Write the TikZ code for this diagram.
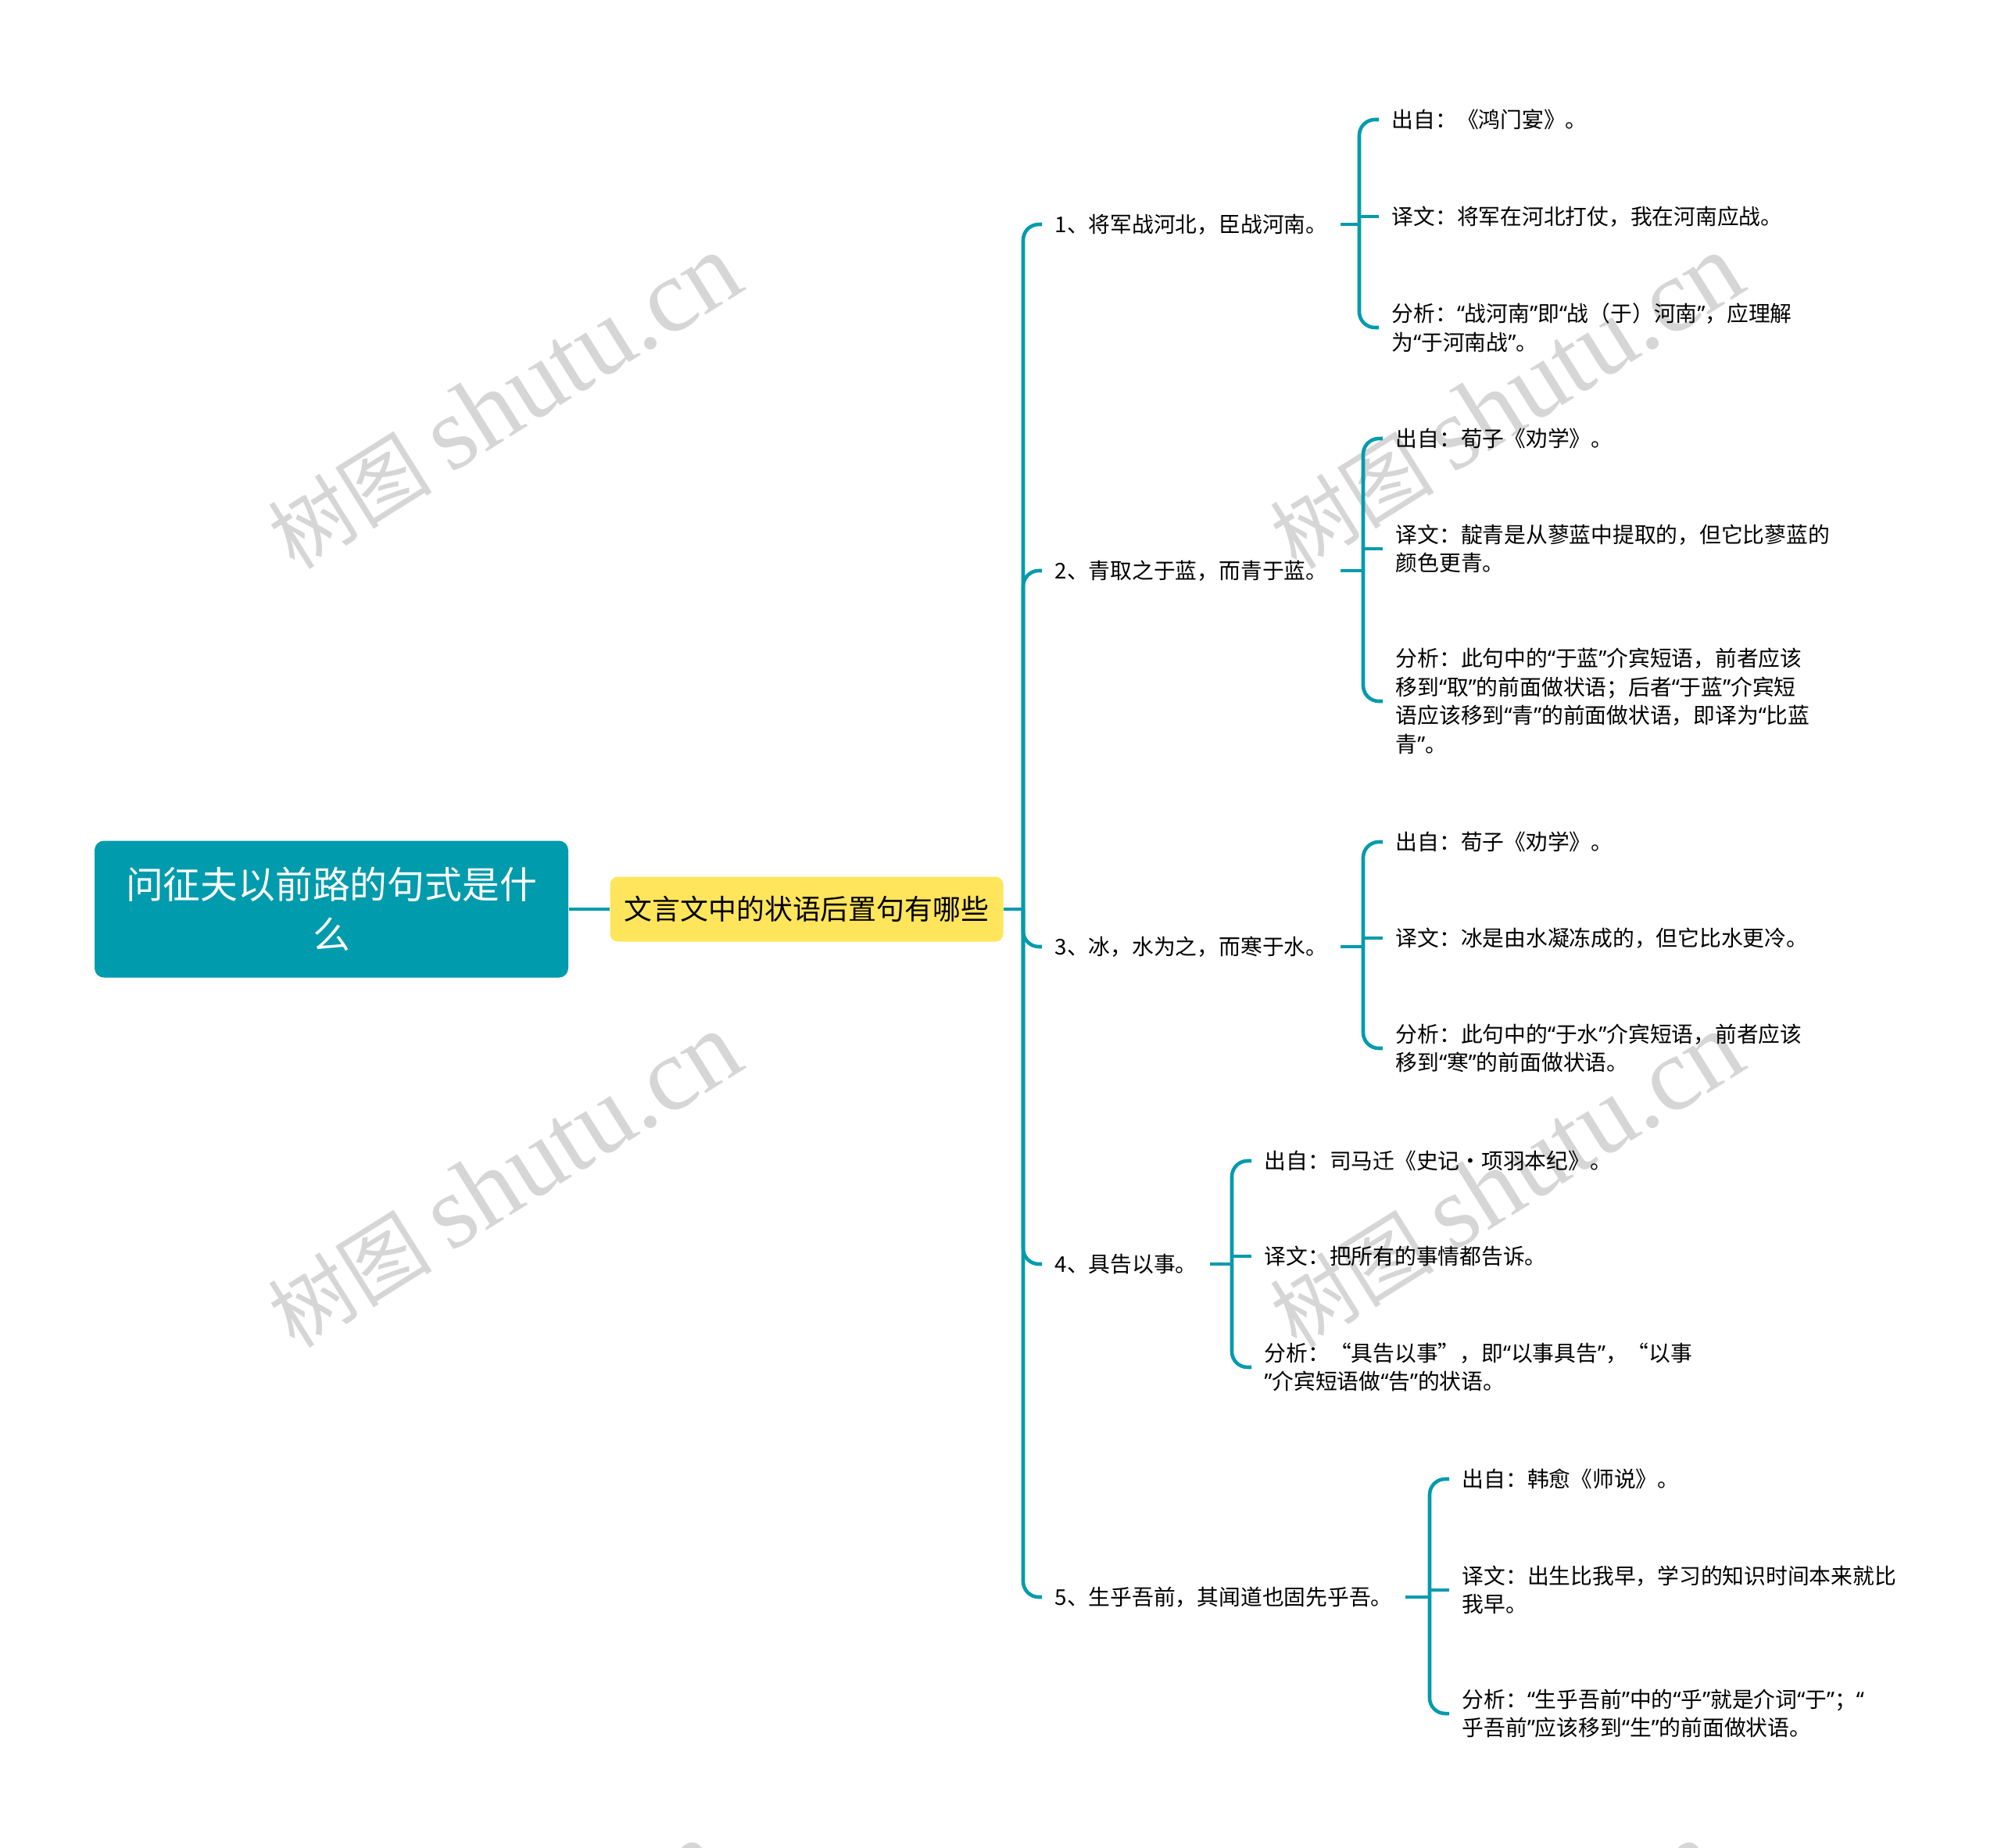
\documentclass[tikz,border=0pt]{standalone}
\usepackage{fontspec}
\setmainfont{Noto Sans CJK SC}
\newfontfamily\wmlatin{Liberation Serif}
\newfontfamily\quotefont{Noto Sans}
\newcommand{\qL}{{\quotefont “}}
\newcommand{\qR}{{\quotefont ”}}
\newcommand{\zq}[1]{\qL#1\qR}
\usetikzlibrary{positioning}
\definecolor{mapteal}{RGB}{0,155,172}
\definecolor{mapyellow}{RGB}{255,229,92}
\definecolor{wmgray}{RGB}{214,214,214}

\begin{document}
\begin{tikzpicture}[
  x=1cm,y=1cm,
  link/.style={draw=mapteal,line width=1.3pt,rounded corners=0.2cm},
  rootbox/.style={fill=mapteal,rounded corners=0.12cm,text=white,align=center,
    font=\fontsize{13.6pt}{18.2pt}\selectfont,minimum width=6.06cm,minimum height=1.75cm},
  topicbox/.style={fill=mapyellow,rounded corners=0.1cm,
    font=\fontsize{10.2pt}{12pt}\selectfont,minimum width=5.03cm,minimum height=0.83cm},
  branch/.style={anchor=west,inner sep=0.16cm,font=\fontsize{7.9pt}{10.4pt}\selectfont},
  leaf/.style={branch,align=left},
  wmark/.style={text=wmgray,rotate=32,inner sep=0pt}
]
\useasboundingbox (0,0) rectangle (25.6,-23.63);
\clip (0,0) rectangle (25.6,-23.63);

% watermarks
\foreach \p [count=\i] in {(6.45,-5.14),(19.27,-5.14),(6.45,-15.10),(19.27,-15.10),(6.2,-25.45),(18.95,-25.45)}
  \node[wmark] (wm\i) at \p {{\fontsize{30pt}{30pt}\selectfont 树图\ }{\wmlatin\fontsize{38pt}{38pt}\selectfont shutu.cn}};

\node[rootbox]  (root)  at (4.24,-11.63) {问征夫以前路的句式是什\\么};
\node[topicbox] (topic) at (10.32,-11.63) {文言文中的状语后置句有哪些};

\node[branch] (n1) at (13.33,-2.87)  {1、将军战河北，臣战河南。};
\node[branch] (n2) at (13.33,-7.30)  {2、青取之于蓝，而青于蓝。};
\node[branch] (n3) at (13.33,-12.11) {3、冰，水为之，而寒于水。};
\node[branch] (n4) at (13.33,-16.17) {4、具告以事。};
\node[branch] (n5) at (13.33,-20.43) {5、生乎吾前，其闻道也固先乎吾。};

\node[leaf] (c11) at (17.64,-1.53) {出自：《鸿门宴》。};
\node[leaf] (c12) at (17.64,-2.77) {译文：将军在河北打仗，我在河南应战。};
\node[leaf] (c13) at (17.64,-4.19) {分析：\zq{战河南}即\zq{战（于）河南}，应理解\\为\zq{于河南战}。};

\node[leaf] (c21) at (17.69,-5.61) {出自：荀子《劝学》。};
\node[leaf] (c22) at (17.69,-7.02) {译文：靛青是从蓼蓝中提取的，但它比蓼蓝的\\颜色更青。};
\node[leaf] (c23) at (17.69,-8.97) {分析：此句中的\zq{于蓝}介宾短语，前者应该\\移到\zq{取}的前面做状语；后者\zq{于蓝}介宾短\\语应该移到\zq{青}的前面做状语，即译为\qL 比蓝\\青\qR。};

\node[leaf] (c31) at (17.69,-10.77) {出自：荀子《劝学》。};
\node[leaf] (c32) at (17.69,-12.00) {译文：冰是由水凝冻成的，但它比水更冷。};
\node[leaf] (c33) at (17.69,-13.41) {分析：此句中的\zq{于水}介宾短语，前者应该\\移到\zq{寒}的前面做状语。};

\node[leaf] (c41) at (16.01,-14.85) {出自：司马迁《史记·项羽本纪》。};
\node[leaf] (c42) at (16.01,-16.07) {译文：把所有的事情都告诉。};
\node[leaf] (c43) at (16.01,-17.49) {分析：“具告以事”，即\zq{以事具告}，“以事\\\qR 介宾短语做\zq{告}的状语。};

\node[leaf] (c51) at (18.54,-18.92) {出自：韩愈《师说》。};
\node[leaf] (c52) at (18.54,-20.34) {译文：出生比我早，学习的知识时间本来就比\\我早。};
\node[leaf] (c53) at (18.54,-21.92) {分析：\zq{生乎吾前}中的\zq{乎}就是介词\zq{于}；\qL\\乎吾前\qR 应该移到\zq{生}的前面做状语。};

% main spine
\coordinate (sp) at (13.09,-11.63);
\draw[link] (root.east) -- (topic.west);
\draw[link] (topic.east) -- (sp);
\foreach \n in {n1,n2,n3,n4,n5}
  \draw[link] (sp) |- (\n.west);

% brackets
\coordinate (b1) at (17.39,-2.87);
\coordinate (b2) at (17.44,-7.30);
\coordinate (b3) at (17.44,-12.11);
\coordinate (b4) at (15.76,-16.17);
\coordinate (b5) at (18.29,-20.43);
\foreach \i in {1,...,5} {
  \draw[link] (n\i.east) -- (b\i);
  \draw[link] (b\i) |- (c\i1.west);
  \draw[link] (b\i) |- (c\i3.west);
  \draw[link] (b\i |- c\i2.west) -- (c\i2.west);
}
\end{tikzpicture}
\end{document}
